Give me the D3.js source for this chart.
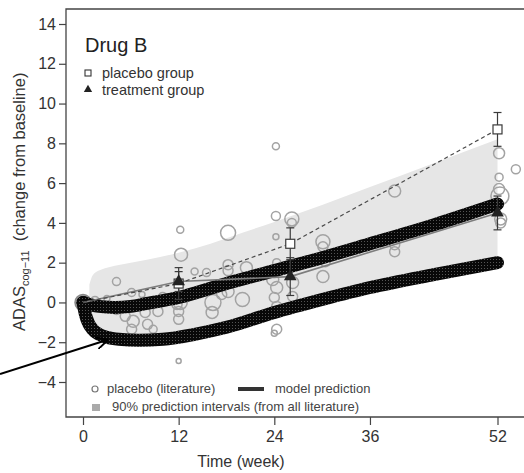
<!DOCTYPE html>
<html>
<head>
<meta charset="utf-8">
<script src="https://cdn.jsdelivr.net/npm/d3@7"></script>
<style>
  body { margin: 0; background: #fff; }
  text { font-family: "Liberation Sans", Arial, sans-serif; }
</style>
</head>
<body>
<script>
// chart data
var xTicks = [0, 12, 24, 36, 52]
var yTicks = [-4, -2, 0, 2, 4, 6, 8, 10, 12, 14]

// 90% prediction interval (from all literature)
var bandWeek = [0.8, 1.2, 2, 3, 4, 6, 8, 12, 16, 20, 24, 30, 36, 44, 52]
var bandHi = [0.9, 1.35, 1.6, 1.75, 1.85, 2.0, 2.15, 2.5, 2.95, 3.5, 4.05, 4.9, 5.8, 7.0, 8.2]
var bandLo = [0.2, -0.8, -1.5, -1.9, -2.05, -2.15, -2.2, -2.1, -1.75, -1.3, -0.7, -0.05, 0.6, 1.35, 2.15]

// model prediction curves
var upperWeek = [0, 1, 2, 4, 6, 8, 12, 18, 24, 30, 36, 44, 52]
var upperVal = [0, -0.12, -0.2, -0.25, -0.2, -0.05, 0.25, 0.95, 1.6, 2.25, 2.95, 3.9, 4.95]
var lowerWeek = [0, 0.3, 0.7, 1.2, 2, 3, 4.5, 7, 10, 14, 18, 24, 30, 36, 44, 52]
var lowerVal = [0, -0.6, -1.05, -1.35, -1.6, -1.75, -1.85, -1.9, -1.85, -1.6, -1.25, -0.5, 0.15, 0.75, 1.4, 2.0]

// trial groups (mean, error)
var placeboWeek = [0, 12, 26, 52]
var placeboMean = [0, 0.95, 2.95, 8.7]
var placeboErr = [0, 0.8, 0.8, 0.85]
var treatWeek = [0, 12, 26, 52]
var treatMean = [0, 1.05, 1.3, 4.5]
var treatErr = [0, 0.5, 0.95, 0.85]

// placebo arms from literature: week, change, bubble radius
var litWeek = [4.2, 12.2, 18.2, 24.2, 24.2, 26.2, 26.2, 24.2, 39.1, 52.2, 54.3, 52.2, 52.2, 52.3, 52.4, 52.4,
  12.3, 14, 15.5, 18.2, 18.2, 20.5, 23.8, 24.3, 24, 26.3, 26.3, 17.4, 18.2, 20, 16.3, 16.2, 24.3, 24.3, 24, 12,
  30.1, 30.1, 30.4, 30.1, 39.1, 39.1, 6.1, 7.4, 4.2, 5.3, 6.3, 7.8, 8.1, 9.4, 8.8, 6.1, 11.8, 12, 12, 12, 12.2,
  2.5, 3, 10, 1.5, 24, 24.3]
var litVal = [1.05, 3.65, 3.5, 7.85, 4.35, 4.2, 4.0, 3.3, 5.6, 7.5, 6.7, 6.3, 5.7, 5.35, 4.2, 4.0,
  2.4, 1.55, 1.5, 1.9, 1.6, 1.75, 1.15, 0.75, 0.25, 1.0, 0.3, 0.4, 0.55, 0.15, 0.0, -0.5, -0.2, -1.35, -1.55, -2.95,
  3.05, 2.8, 2.05, 1.3, 2.9, 2.55, 0.5, 0.4, -0.35, -0.7, -0.95, -0.5, -1.1, -0.45, -1.35, -1.35, -0.1, -0.45, -0.85, 0.3, 0.0,
  -0.3, 0.2, 0.3, 0.1, 1.5, 2.0]
var litSize = [4, 3.5, 7.5, 3.5, 4.5, 7, 4.5, 3, 6, 5.5, 4.5, 4, 5.5, 9, 6, 5,
  6.5, 3.5, 4, 5, 5, 6, 6, 6, 5, 6, 5, 5, 6, 7, 8, 6, 5, 5, 3, 2.5,
  7, 5, 5, 6, 5, 5, 4, 3, 5, 5, 6, 5, 5, 5, 4, 5, 5, 5, 5, 5, 7,
  4, 3, 4, 4, 5, 4]

var w = 524,
    h = 473

var svg = d3.select('body').append('svg')
    .attr('width', w)
    .attr('height', h)

var x = d3.scaleLinear().domain([0, 52]).range([83, 497.5])
var y = d3.scaleLinear().domain([-4, 14]).range([382, 24])

var frameLeft = 66, frameTop = 9, frameBottom = 417

// halftone look of the thick model lines
var pat = svg.append('defs').append('pattern')
    .attr('id', 'halftone')
    .attr('width', 3).attr('height', 3)
    .attr('patternUnits', 'userSpaceOnUse')
pat.append('rect').attr('width', 3).attr('height', 3).attr('fill', '#080808')
pat.append('rect').attr('x', 1).attr('y', 1).attr('width', 1).attr('height', 1).attr('fill', '#555')

// prediction band
var band = bandWeek.map(function(d, i) { return {w: d, lo: bandLo[i], hi: bandHi[i]} })
svg.append('path')
    .datum(band)
    .attr('fill', '#e6e6e6')
    .attr('d', d3.area()
        .curve(d3.curveMonotoneX)
        .x(function(d) { return x(d.w) })
        .y0(function(d) { return y(d.lo) })
        .y1(function(d) { return y(d.hi) }))

// literature bubbles
var lit = litWeek.map(function(d, i) { return {w: d, v: litVal[i], r: litSize[i]} })
svg.append('circle')
    .attr('cx', x(0)).attr('cy', y(0)).attr('r', 8)
    .attr('fill', '#a0a0a0').attr('stroke', '#888').attr('stroke-width', 1.5)
svg.append('g').selectAll('circle')
    .data(lit)
    .enter()
    .append('circle')
    .attr('cx', function(d) { return x(d.w) })
    .attr('cy', function(d) { return y(d.v) })
    .attr('r', function(d) { return d.r })
    .attr('fill', 'none')
    .attr('stroke', '#a3a3a3')
    .attr('stroke-width', 1.5)

// model prediction curves
var modelLine = d3.line()
    .curve(d3.curveMonotoneX)
    .x(function(d) { return x(d[0]) })
    .y(function(d) { return y(d[1]) })

var upper = upperWeek.map(function(d, i) { return [d, upperVal[i]] })
var lower = lowerWeek.map(function(d, i) { return [d, lowerVal[i]] })
svg.selectAll('.model')
    .data([upper, lower])
    .enter()
    .append('path')
    .classed('model', true)
    .attr('d', modelLine)
    .attr('fill', 'none')
    .attr('stroke', 'url(#halftone)')
    .attr('stroke-width', 13)
    .attr('stroke-linecap', 'round')

// group mean lines
var straight = d3.line()
    .x(function(d) { return x(d[0]) })
    .y(function(d) { return y(d[1]) })

var placebo = placeboWeek.map(function(d, i) { return [d, placeboMean[i], placeboErr[i]] })
var treat = treatWeek.map(function(d, i) { return [d, treatMean[i], treatErr[i]] })

svg.append('path')
    .datum(treat)
    .attr('d', straight)
    .attr('fill', 'none')
    .attr('stroke', '#7d7d7d')
    .attr('stroke-width', 1.6)

svg.append('path')
    .datum(placebo)
    .attr('d', straight)
    .attr('fill', 'none')
    .attr('stroke', '#4a4a4a')
    .attr('stroke-width', 1.2)
    .attr('stroke-dasharray', '4,3')

// error bars
function errorBars(data) {
    var g = svg.append('g')
        .selectAll('g')
        .data(data.filter(function(d) { return d[2] > 0 }))
        .enter()
        .append('g')
        .attr('stroke', '#3a3a3a')
        .attr('stroke-width', 1.2)
    g.append('line')
        .attr('x1', function(d) { return x(d[0]) })
        .attr('x2', function(d) { return x(d[0]) })
        .attr('y1', function(d) { return y(d[1] - d[2]) })
        .attr('y2', function(d) { return y(d[1] + d[2]) })
    g.append('line')
        .attr('x1', function(d) { return x(d[0]) - 4 })
        .attr('x2', function(d) { return x(d[0]) + 4 })
        .attr('y1', function(d) { return y(d[1] + d[2]) })
        .attr('y2', function(d) { return y(d[1] + d[2]) })
    g.append('line')
        .attr('x1', function(d) { return x(d[0]) - 4 })
        .attr('x2', function(d) { return x(d[0]) + 4 })
        .attr('y1', function(d) { return y(d[1] - d[2]) })
        .attr('y2', function(d) { return y(d[1] - d[2]) })
}
errorBars(placebo)
errorBars(treat)

// markers
svg.append('g').selectAll('rect')
    .data(placebo.slice(1))
    .enter()
    .append('rect')
    .attr('x', function(d) { return x(d[0]) - 4.5 })
    .attr('y', function(d) { return y(d[1]) - 4.5 })
    .attr('width', 9).attr('height', 9)
    .attr('fill', '#fff')
    .attr('stroke', '#3a3a3a')
    .attr('stroke-width', 1.2)

svg.append('g').selectAll('path')
    .data(treat.slice(1))
    .enter()
    .append('path')
    .attr('transform', function(d) { return 'translate(' + x(d[0]) + ',' + y(d[1]) + ')' })
    .attr('d', d3.symbol(d3.symbolTriangle).size(70))
    .attr('fill', '#222')

// frame
svg.append('path')
    .attr('d', 'M' + (w + 5) + ',' + frameTop + 'H' + frameLeft + 'V' + frameBottom + 'H' + (w + 5))
    .attr('fill', 'none')
    .attr('stroke', '#444')
    .attr('stroke-width', 1.3)

// axes
var yAxis = svg.append('g')
    .attr('transform', 'translate(' + frameLeft + ',0)')
    .call(d3.axisLeft(y).tickValues(yTicks).tickSize(7).tickPadding(3))
var xAxis = svg.append('g')
    .attr('transform', 'translate(0,' + frameBottom + ')')
    .call(d3.axisBottom(x).tickValues(xTicks).tickSize(8).tickPadding(6))
;[yAxis, xAxis].forEach(function(a) {
    a.select('.domain').remove()
    a.selectAll('line').attr('stroke', '#444').attr('stroke-width', 1.2)
    a.selectAll('text')
        .attr('fill', '#333')
        .style('font-size', '16px')
        .style('font-family', '"Liberation Sans", Arial, sans-serif')
})

svg.append('text')
    .attr('x', 241).attr('y', 467)
    .attr('text-anchor', 'middle')
    .attr('fill', '#333')
    .style('font-size', '16px')
    .text('Time (week)')

var yl = svg.append('text')
    .attr('transform', 'translate(25,331) rotate(-90)')
    .attr('fill', '#333')
    .style('font-size', '16.5px')
yl.append('tspan').text('ADAS')
yl.append('tspan').attr('dy', 4).style('font-size', '11px').text('cog\u221211')
yl.append('tspan').attr('dy', -4).text('\u00a0\u00a0(change from baseline)')

// top-left legend
svg.append('text')
    .attr('x', 85).attr('y', 52)
    .attr('fill', '#222')
    .style('font-size', '20px')
    .text('Drug B')
svg.append('rect')
    .attr('x', 85).attr('y', 70).attr('width', 6).attr('height', 6)
    .attr('fill', '#fff').attr('stroke', '#333').attr('stroke-width', 1.1)
svg.append('path')
    .attr('transform', 'translate(88,89.5)')
    .attr('d', d3.symbol(d3.symbolTriangle).size(30))
    .attr('fill', '#222')
svg.append('text')
    .attr('x', 102).attr('y', 78)
    .attr('fill', '#333')
    .style('font-size', '14.5px')
    .text('placebo group')
svg.append('text')
    .attr('x', 102).attr('y', 95)
    .attr('fill', '#333')
    .style('font-size', '14.5px')
    .text('treatment group')

// bottom legend
svg.append('circle')
    .attr('cx', 95).attr('cy', 389).attr('r', 3)
    .attr('fill', 'none').attr('stroke', '#777').attr('stroke-width', 1.2)
svg.append('text')
    .attr('x', 107).attr('y', 393)
    .attr('fill', '#444')
    .style('font-size', '13px')
    .text('placebo (literature)')
svg.append('line')
    .attr('x1', 238).attr('x2', 264).attr('y1', 389).attr('y2', 389)
    .attr('stroke', '#333').attr('stroke-width', 4)
svg.append('text')
    .attr('x', 275).attr('y', 393)
    .attr('fill', '#444')
    .style('font-size', '13px')
    .text('model prediction')
svg.append('rect')
    .attr('x', 92).attr('y', 404).attr('width', 8).attr('height', 7)
    .attr('fill', '#aaa')
svg.append('text')
    .attr('x', 112).attr('y', 411)
    .attr('fill', '#444')
    .style('font-size', '13px')
    .text('90% prediction intervals (from all literature)')

// arrow pointing at the lower prediction curve
var mk = svg.select('defs').append('marker')
    .attr('id', 'arrowhead')
    .attr('viewBox', '0 0 10 10')
    .attr('refX', 9).attr('refY', 5)
    .attr('markerWidth', 6).attr('markerHeight', 6)
    .attr('orient', 'auto')
mk.append('path').attr('d', 'M0,0 L10,5 L0,10').attr('fill', 'none').attr('stroke', '#000').attr('stroke-width', 1.6)
svg.append('line')
    .attr('x1', 0).attr('y1', 374).attr('x2', 107).attr('y2', 340)
    .attr('stroke', '#000').attr('stroke-width', 2)
    .attr('marker-end', 'url(#arrowhead)')
</script>
</body>
</html>
